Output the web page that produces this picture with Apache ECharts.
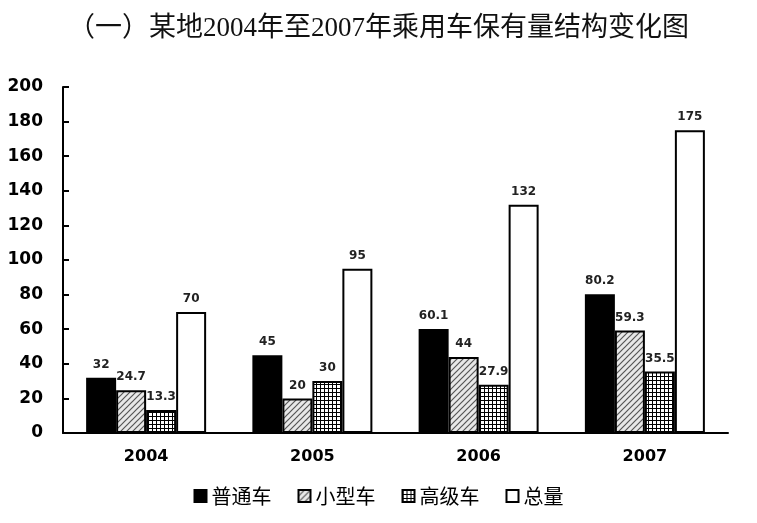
<!DOCTYPE html>
<html><head><meta charset="utf-8">
<script src="https://cdn.jsdelivr.net/npm/echarts@6/dist/echarts.min.js"></script>
<style>html,body{margin:0;padding:0;background:#fff}#c{width:757px;height:523px}</style>
</head><body><div id="c"></div>
<script>
var titleText = '（一）某地2004年至2007年乘用车保有量结构变化图';
var categories = ['2004','2005','2006','2007'];
var seriesNames = ['普通车','小型车','高级车','总量'];
var putong = [32, 45, 60.1, 80.2];
var xiaoxing = [24.7, 20, 44, 59.3];
var gaoji = [13.3, 30, 27.9, 35.5];
var zongliang = [70, 95, 132, 175];
var yTicks = [0, 200, 20];

function hatch(){
  var c = document.createElement('canvas'); c.width = 6; c.height = 6;
  var g = c.getContext('2d');
  g.fillStyle = '#e8e8e8'; g.fillRect(0,0,6,6);
  g.strokeStyle = '#555'; g.lineWidth = 1.2;
  g.beginPath(); g.moveTo(0,6); g.lineTo(6,0); g.moveTo(-3,3); g.lineTo(3,-3); g.moveTo(3,9); g.lineTo(9,3); g.stroke();
  return c;
}
function grid(){
  var c = document.createElement('canvas'); c.width = 4; c.height = 4;
  var g = c.getContext('2d');
  g.fillStyle = '#fff'; g.fillRect(0,0,4,4);
  g.fillStyle = '#000'; g.fillRect(0,0,4,1); g.fillRect(0,0,1,4);
  return c;
}
var fills = ['#000', {image: hatch(), repeat: 'repeat'}, {image: grid(), repeat: 'repeat'}, '#fff'];
var datas = [putong, xiaoxing, gaoji, zongliang];

var chart = echarts.init(document.getElementById('c'));
chart.setOption({
  animation: false,
  title: {text: titleText, left: 'center', top: 10,
    textStyle: {fontFamily: '"Liberation Serif","Noto Sans CJK SC"', fontSize: 27, fontWeight: 'normal', color: '#111'}},
  legend: {bottom: 12, left: 'center', icon: 'rect', itemWidth: 12, itemHeight: 12, itemGap: 26,
    textStyle: {fontFamily: '"Noto Sans CJK SC"', fontSize: 20, color: '#000', fontWeight: 'normal'},
    data: seriesNames},
  grid: {left: 63, right: 29, top: 87, bottom: 90, containLabel: false},
  xAxis: {type: 'category', data: categories,
    axisLine: {lineStyle: {color: '#000', width: 2}},
    axisTick: {inside: true, length: 6, lineStyle: {color: '#000', width: 2}},
    axisLabel: {color: '#000', fontSize: 16, fontWeight: 'bold', fontFamily: '"DejaVu Sans", sans-serif', margin: 16}},
  yAxis: {type: 'value', min: yTicks[0], max: yTicks[1], interval: yTicks[2],
    axisLine: {show: true, lineStyle: {color: '#000', width: 2}},
    axisTick: {show: true, inside: true, length: 6, lineStyle: {color: '#000', width: 2}},
    splitLine: {show: false},
    axisLabel: {color: '#000', fontSize: 17, fontWeight: 'bold', fontFamily: '"DejaVu Sans", sans-serif', margin: 20}},
  series: seriesNames.map(function(n, i){
    return {name: n, type: 'bar', data: datas[i], barWidth: 30, barGap: '0%',
      itemStyle: {color: fills[i], borderColor: '#000', borderWidth: 2},
      label: {show: true, position: 'top', distance: 7, color: '#222', fontSize: 12, fontWeight: 'bold', fontFamily: '"DejaVu Sans", sans-serif'}};
  })
});
</script></body></html>
